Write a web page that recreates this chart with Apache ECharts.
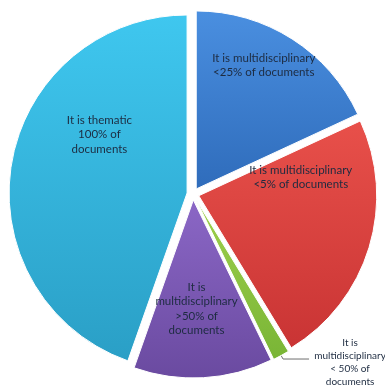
<!DOCTYPE html>
<html>
<head>
<meta charset="utf-8">
<script src="https://cdn.jsdelivr.net/npm/echarts@6/dist/echarts.min.js"></script>
<style>
html, body { margin: 0; padding: 0; background: #fff; }
#chart { width: 385px; height: 388px; }
</style>
</head>
<body>
<div id="chart"></div>
<script>
var categories = [
    'It is multidisciplinary\n<25% of documents',
    'It is multidisciplinary\n<5% of documents',
    'It is\nmultidisciplinary\n< 50% of\ndocuments',
    'It is\nmultidisciplinary\n>50% of\ndocuments',
    'It is thematic\n100% of\ndocuments'
];
var shares = [18.1, 23.2, 1.5, 12.6, 44.6];

var topColors = ['#4a8fe0', '#e8504a', '#9fd04c', '#8b67c6', '#3fc7ef'];
var bottomColors = ['#2f6cbb', '#c93434', '#79b536', '#6a4aa0', '#2a9fc6'];

// label nudges (px) from the default inside position
var labelShift = [[18, -46], [14, -45], [0, 0], [-2, 17], [3, -43]];

var myChart = echarts.init(document.getElementById('chart'));

var pieData = shares.map(function (v, i) {
    var item = {
        value: v,
        name: categories[i],
        selected: true,
        itemStyle: {
            color: new echarts.graphic.LinearGradient(0, 0, 0, 1, [
                {offset: 0, color: topColors[i]},
                {offset: 1, color: bottomColors[i]}
            ])
        },
        label: {position: 'inside'},
        labelLine: {show: false}
    };
    if (i === 2) {
        // small slice: label sits outside with a leader line
        item.label = {
            position: 'outside', overflow: 'none', alignTo: 'none',
            formatter: '{c|{b}}',
            rich: {c: {fontSize: 10, lineHeight: 13, width: 72, align: 'center', color: '#1d2b40', fontFamily: 'Lato'}}
        };
        item.labelLine = {show: true, length: 4, length2: 26, lineStyle: {color: '#6f6f6f', width: 1}};
    }
    return item;
});

var option = {
    backgroundColor: '#fff',
    animation: false,
    series: [{
        type: 'pie',
        center: [193, 194],
        radius: 178,
        startAngle: 90,
        selectedMode: 'multiple',
        selectedOffset: 6,
        avoidLabelOverlap: false,
        itemStyle: {borderColor: '#fff', borderWidth: 1},
        label: {
            show: true,
            formatter: '{b}',
            color: '#1d2b40',
            fontFamily: 'Lato',
            fontSize: 11.5,
            lineHeight: 14.5,
            align: 'center'
        },
        emphasis: {disabled: true},
        labelLayout: function (params) {
            if (params.dataIndex === 2) {
                return {dy: 3};
            }
            var s = labelShift[params.dataIndex];
            return {dx: s[0], dy: s[1]};
        },
        data: pieData
    }]
};

myChart.setOption(option);
</script>
</body>
</html>
